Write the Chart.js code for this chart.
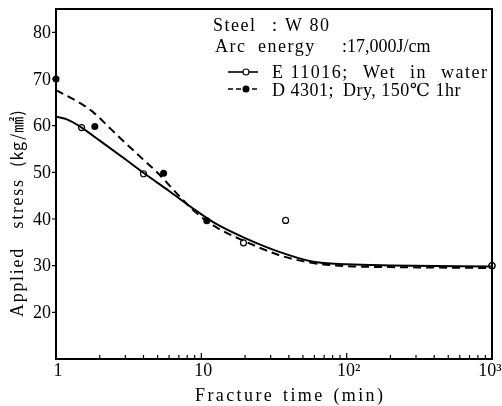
<!DOCTYPE html>
<html lang="en">
<head>
<meta charset="UTF-8">
<title>Applied stress - Fracture time</title>
<script src="https://cdn.jsdelivr.net/npm/chart.js"></script>
<style>
  body { margin: 0; background: #fff; }
</style>
</head>
<body>
<canvas id="myChart" width="502" height="406"></canvas>
<script>
    // curva cheia: E 11016 (Wet in water)
    const solidX = [1, 1.2, 1.5, 2, 3, 4, 6, 9, 12.4, 20, 34, 57.5, 100, 200, 1000];
    const solidY = [61.9, 61.3, 59.6, 56.8, 52.8, 49.9, 46.0, 42.0, 39.1, 35.9, 33.0, 30.9, 30.3, 30.05, 29.8];

    // curva tracejada: D 4301 (Dry, 150C 1hr)
    const dashX = [1, 1.4, 1.8, 2.4, 3, 4, 5, 7, 9, 12.4, 20, 34, 57.5, 100, 200, 1000];
    const dashY = [67.6, 65.2, 62.9, 59.2, 56.3, 52.7, 49.9, 45.0, 41.6, 38.4, 35.2, 32.3, 30.6, 29.9, 29.7, 29.5];

    // pontos medidos
    const wetX = [1.5, 4, 19.5, 38, 1000];
    const wetY = [59.6, 49.7, 34.9, 39.7, 30];
    const dryX = [1, 1.85, 5.5, 10.9, 1000];
    const dryY = [70, 59.8, 49.8, 39.6, 30];

    // eixos
    const yTicks = [20, 30, 40, 50, 60, 70, 80];
    const xMajor = [1, 10, 100, 1000];
    const xLabels = ['1', '10', '10²', '10³'];
    const xMinor = [2, 3, 4, 5, 6, 7, 8, 9, 20, 30, 40, 50, 60, 70, 80, 90, 200, 300, 400, 500, 600, 700, 800, 900];

    function pts(xs, ys) {
        return xs.map((x, i) => ({ x: x, y: ys[i] }));
    }

    const SERIF = '"Liberation Serif", "DejaVu Serif", serif';

    // escreve as palavras entre x0 e x1, com espaços iguais entre elas
    function drawWords(ctx, words, x0, x1, y, sp) {
        ctx.letterSpacing = sp + 'px';
        const ws = words.map(w => ctx.measureText(w).width - sp);
        const total = ws.reduce((s, w) => s + w, 0);
        const gap = words.length > 1 ? (x1 - x0 - total) / (words.length - 1) : 0;
        let x = x0;
        words.forEach((w, i) => {
            ctx.fillText(w, x, y);
            x += ws[i] + gap;
        });
        ctx.letterSpacing = '0px';
    }

    function txt(ctx, s, x, y, sp) {
        ctx.letterSpacing = sp + 'px';
        ctx.fillText(s, x, y);
        ctx.letterSpacing = '0px';
    }

    // desenha moldura, ticks, rótulos e textos
    const moldura = {
        id: 'moldura',
        afterDraw(chart) {
            const ctx = chart.ctx;
            const a = chart.chartArea;
            const xs = chart.scales.x;
            const ys = chart.scales.y;
            ctx.save();
            ctx.strokeStyle = '#000';
            ctx.fillStyle = '#000';
            ctx.lineWidth = 2;
            ctx.strokeRect(a.left, a.top, a.right - a.left, a.bottom - a.top);

            ctx.lineWidth = 1.2;
            ctx.beginPath();
            xMinor.forEach(v => {
                const px = xs.getPixelForValue(v);
                ctx.moveTo(px, a.bottom);
                ctx.lineTo(px, a.bottom - 4);
            });
            xMajor.forEach(v => {
                const px = xs.getPixelForValue(v);
                ctx.moveTo(px, a.bottom);
                ctx.lineTo(px, a.bottom - 6);
            });
            yTicks.forEach(v => {
                const py = ys.getPixelForValue(v);
                ctx.moveTo(a.left, py);
                ctx.lineTo(a.left - 4, py);
            });
            ctx.stroke();

            ctx.font = '18px ' + SERIF;
            ctx.textAlign = 'right';
            ctx.textBaseline = 'middle';
            yTicks.forEach(v => {
                ctx.fillText(String(v), a.left - 5, ys.getPixelForValue(v) + 1);
            });
            ctx.textAlign = 'center';
            ctx.textBaseline = 'top';
            xMajor.forEach((v, i) => {
                let px = xs.getPixelForValue(v) + 2;
                if (i === xMajor.length - 1) px -= 4;
                ctx.fillText(xLabels[i], px, a.bottom + 3);
            });

            // bloco de texto (aço, energia, legenda)
            ctx.textAlign = 'left';
            ctx.textBaseline = 'alphabetic';
            txt(ctx, 'Steel', 213, 31, 1.5);
            txt(ctx, ':', 272, 31, 0);
            txt(ctx, 'W 80', 285, 31, 1.5);
            txt(ctx, 'Arc', 215, 52, 1.5);
            txt(ctx, 'energy', 258, 52, 1.5);
            txt(ctx, ':17,000J/cm', 342, 52, 0);
            drawWords(ctx, ['E 11016;', 'Wet', 'in', 'water'], 272, 487, 78, 1.5);
            txt(ctx, 'D 4301;', 272, 96, 0.5);
            txt(ctx, 'Dry, 150℃ 1hr', 343, 96, 0.5);

            // título do eixo x
            drawWords(ctx, ['Fracture', 'time', '(min)'], 195, 383, 401, 2.4);

            // título do eixo y
            ctx.save();
            ctx.translate(23, 317);
            ctx.rotate(-Math.PI / 2);
            drawWords(ctx, ['Applied', 'stress'], 0, 137, 0, 1.7);
            ctx.font = '16px "Noto Sans CJK JP", ' + SERIF;
            txt(ctx, '(kg/㎟)', 150, 0, 1);
            ctx.restore();

            // símbolos da legenda
            ctx.lineWidth = 1.6;
            ctx.setLineDash([]);
            ctx.beginPath();
            ctx.moveTo(228, 72);
            ctx.lineTo(258, 72);
            ctx.stroke();
            ctx.beginPath();
            ctx.arc(246, 72, 3, 0, Math.PI * 2);
            ctx.fillStyle = '#fff';
            ctx.fill();
            ctx.lineWidth = 1.2;
            ctx.stroke();
            ctx.fillStyle = '#000';

            ctx.lineWidth = 1.6;
            ctx.setLineDash([5, 3]);
            ctx.beginPath();
            ctx.moveTo(228, 89);
            ctx.lineTo(258, 89);
            ctx.stroke();
            ctx.setLineDash([]);
            ctx.beginPath();
            ctx.arc(246, 89, 3.5, 0, Math.PI * 2);
            ctx.fill();
            ctx.restore();
        }
    };

    const config = {
        type: 'scatter',
        data: {
            datasets: [
                {
                    label: 'E 11016; Wet in water (curva)',
                    data: pts(solidX, solidY),
                    showLine: true,
                    borderColor: '#000',
                    borderWidth: 2,
                    pointRadius: 0,
                    cubicInterpolationMode: 'monotone'
                },
                {
                    label: 'D 4301; Dry, 150℃ 1hr (curva)',
                    data: pts(dashX, dashY),
                    showLine: true,
                    borderColor: '#000',
                    borderWidth: 2,
                    borderDash: [8, 5],
                    pointRadius: 0,
                    cubicInterpolationMode: 'monotone'
                },
                {
                    label: 'E 11016; Wet in water',
                    data: pts(wetX, wetY),
                    pointRadius: 3,
                    pointBorderWidth: 1.2,
                    borderColor: '#000',
                    backgroundColor: '#fff',
                    clip: false
                },
                {
                    label: 'D 4301; Dry, 150℃ 1hr',
                    data: pts(dryX, dryY),
                    pointRadius: 3.5,
                    pointBorderWidth: 0,
                    borderColor: '#000',
                    backgroundColor: '#000',
                    clip: false
                }
            ]
        },
        options: {
            responsive: false,
            devicePixelRatio: 1,
            animation: false,
            layout: { padding: { left: 56, top: 9, right: 10, bottom: 47 } },
            plugins: {
                legend: { display: false },
                tooltip: { enabled: false }
            },
            scales: {
                x: { type: 'logarithmic', min: 1, max: 1000, display: false },
                y: { type: 'linear', min: 10, max: 85, display: false }
            }
        },
        plugins: [moldura]
    };

    const myChart = new Chart(document.getElementById('myChart'), config);
</script>
</body>
</html>
